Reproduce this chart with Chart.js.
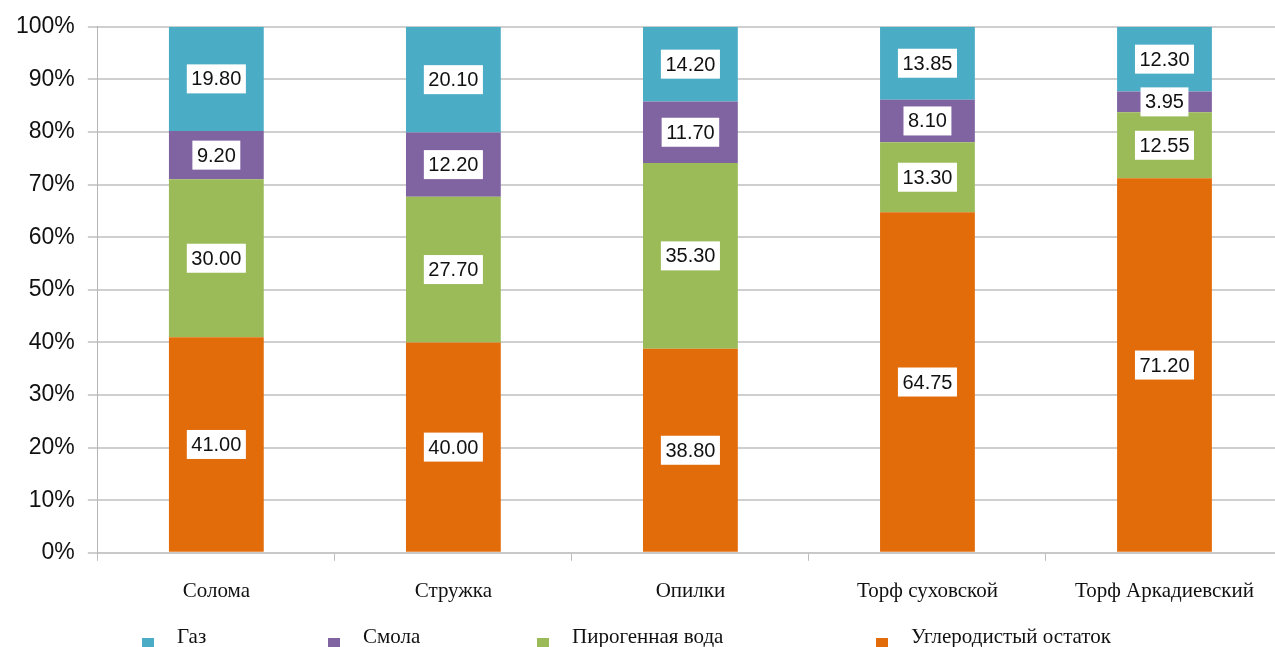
<!DOCTYPE html>
<html>
<head>
<meta charset="utf-8">
<script src="https://cdn.jsdelivr.net/npm/chart.js@4/dist/chart.umd.min.js"></script>
<style>
  html, body { margin: 0; padding: 0; background: #fff; overflow: hidden; }
  #wrap { position: relative; width: 1283px; height: 647px; }
  #legend { position: absolute; left: 142px; top: 624px; display: flex; font: 21px 'Liberation Serif', serif; color: #111; }
  #legend .item { display: flex; align-items: flex-start; white-space: nowrap; }
  #legend .box { width: 12px; height: 12px; margin-top: 14px; margin-right: 23px; }
  #legend .item:nth-child(1) { width: 186px; }
  #legend .item:nth-child(2) { width: 209px; }
  #legend .item:nth-child(3) { width: 339px; }
</style>
</head>
<body>
<div id="wrap">
  <canvas id="chart" width="1283" height="647"></canvas>
  <div id="legend"></div>
</div>
<script>
const CATEGORIES = ['Солома', 'Стружка', 'Опилки', 'Торф суховской', 'Торф Аркадиевский']
const CARBON = [41.00, 40.00, 38.80, 64.75, 71.20]
const WATER  = [30.00, 27.70, 35.30, 13.30, 12.55]
const TAR    = [9.20, 12.20, 11.70, 8.10, 3.95]
const GAS    = [19.80, 20.10, 14.20, 13.85, 12.30]
const Y_TICKS = [0, 10, 20, 30, 40, 50, 60, 70, 80, 90, 100]

// stacked bottom -> top
const SERIES = [
  { label: 'Углеродистый остаток', data: CARBON, color: '#E36C0A' },
  { label: 'Пирогенная вода', data: WATER, color: '#9BBB59' },
  { label: 'Смола', data: TAR, color: '#8064A2' },
  { label: 'Газ', data: GAS, color: '#4BACC6' },
]

// white boxed value labels in the middle of each segment
const valueLabels = {
  id: 'valueLabels',
  afterDatasetsDraw(chart) {
    const ctx = chart.ctx
    ctx.save()
    ctx.font = '20px "Liberation Sans", Arial, sans-serif'
    ctx.textAlign = 'center'
    ctx.textBaseline = 'middle'
    chart.data.datasets.forEach((ds, i) => {
      chart.getDatasetMeta(i).data.forEach((bar, j) => {
        const txt = ds.data[j].toFixed(2)
        const cy = (bar.y + bar.base) / 2
        const w = ctx.measureText(txt).width + 9
        ctx.fillStyle = '#fff'
        ctx.fillRect(bar.x - w / 2, cy - 14.5, w, 29)
        ctx.fillStyle = '#111'
        ctx.fillText(txt, bar.x, cy + 1)
      })
    })
    ctx.restore()
  }
}

const chart = new Chart(document.getElementById('chart'), {
  type: 'bar',
  data: {
    labels: CATEGORIES,
    datasets: SERIES.map(s => ({ label: s.label, data: s.data, backgroundColor: s.color, borderWidth: 0 })),
  },
  plugins: [valueLabels],
  options: {
    responsive: false,
    animation: false,
    layout: { padding: { left: 3, right: 0, top: 20, bottom: 25 } },
    plugins: { legend: { display: false }, tooltip: { enabled: false } },
    datasets: { bar: { barPercentage: 0.4, categoryPercentage: 1 } },
    scales: {
      x: {
        stacked: true,
        grid: { offset: true, drawOnChartArea: false, tickLength: 8, color: '#bdbdbd', lineWidth: 1 },
        border: { display: true, color: '#c8c8c8', width: 2 },
        ticks: { padding: 18, color: '#111', font: { family: "'Liberation Serif', serif", size: 21 } },
      },
      y: {
        stacked: true,
        min: 0,
        max: 100,
        afterBuildTicks: axis => { axis.ticks = Y_TICKS.map(v => ({ value: v })) },
        grid: { color: '#cfcfcf', lineWidth: 2, tickLength: 10 },
        border: { display: true, color: '#b5b5b5', width: 1 },
        ticks: {
          padding: 13,
          color: '#111',
          font: { family: "'Liberation Sans', Arial, sans-serif", size: 23 },
          callback: v => v + '%',
        },
      },
    },
  },
})

// legend in the original order (top of stack first)
const legend = document.getElementById('legend')
SERIES.slice().reverse().forEach(s => {
  const item = document.createElement('div')
  item.className = 'item'
  item.innerHTML = `<span class="box" style="background:${s.color}"></span><span>${s.label}</span>`
  legend.appendChild(item)
})
</script>
</body>
</html>
